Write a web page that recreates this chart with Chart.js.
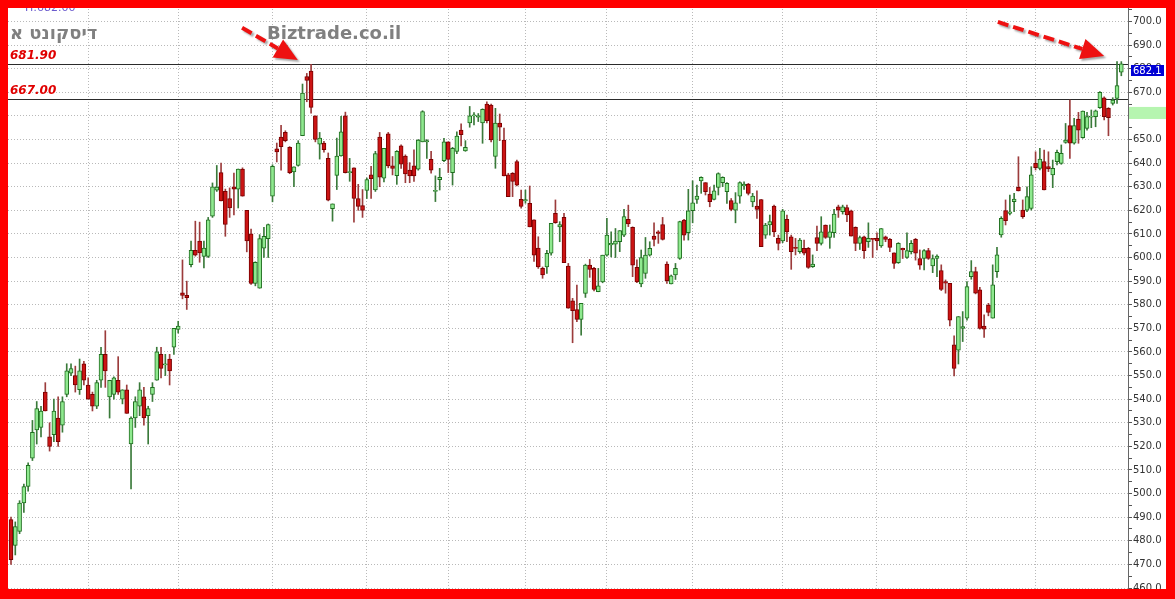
<!DOCTYPE html>
<html>
<head>
<meta charset="utf-8">
<title>דיסקונט א</title>
<script src="https://cdn.jsdelivr.net/npm/chart.js@4.4.1/dist/chart.umd.min.js"></script>
<style>
  html, body { margin: 0; padding: 0; background: #fff; }
  #wrap { width: 1175px; height: 599px; }
</style>
</head>
<body>
<div id="wrap"><canvas id="chart" width="1175" height="599"></canvas></div>
<script>
// daily candles (oldest first)
const openPrices = [
  489, 478, 484, 496, 503, 515, 527, 528, 543, 524, 525, 532, 529, 542, 551, 550, 544, 555, 546, 542,
  537, 548, 559, 541, 542, 548, 540, 544, 521, 532, 537, 541, 533, 542, 548, 559, 554.5, 557, 562, 569.5,
  585, 584, 597, 603, 607, 600.5, 600.5, 617.5, 628.5, 636, 628, 625, 630, 629, 637.5, 620, 610, 589, 587, 604,
  608, 626, 646, 651, 653, 646.7, 636.3, 639, 651.6, 676.7, 679, 660, 648, 648.5, 642, 620.7, 634.8, 643, 660, 636,
  638, 625, 622, 628.4, 635, 628.6, 651, 633.6, 652.4, 638.8, 634.7, 647.3, 643, 637, 638.8, 637.4, 649, 649, 641.6, 628,
  633, 641, 649, 636, 644.9, 654, 645.2, 657, 660, 659.5, 657, 665, 664.6, 642.8, 657, 649.8, 635, 635.7, 640.6, 624.7,
  624, 623, 616, 604, 595.4, 596, 601.8, 618.7, 613, 617, 596.4, 581.7, 578, 573.8, 584.8, 596.8, 595.4, 585.5, 589.7, 601,
  605.3, 605.7, 606.7, 609.5, 616.2, 612.8, 595.8, 588.8, 593.3, 601, 609.1, 610.9, 614, 597.2, 588.8, 592.6, 599.6, 615.9, 610.5, 619.8,
  624.6, 632.5, 631.7, 626.9, 624.6, 629.7, 631.7, 627.9, 624.1, 620.1, 626, 630.3, 631.1, 623.6, 621.8, 624.6, 609.5, 613.8, 621.8, 608.1,
  607, 616.2, 608.8, 604.3, 602.5, 603.9, 603.9, 596.1, 608.5, 606, 613.8, 608.5, 610.5, 621.5, 619.4, 621.2, 619.8, 612.8, 606, 608.8,
  606.7, 608.1, 608.1, 604.9, 608.8, 607.7, 602, 597.8, 603.9, 600, 602.5, 607.7, 599.6, 599.6, 602.9, 596.4, 599.6, 594.5, 589.8, 589.1,
  563, 560.8, 570, 574.3, 591.9, 594, 586.3, 571, 579.9, 574.3, 594, 609.6, 619.9, 618.7, 623.7, 629.7, 620.1, 620.1, 620.8, 639.9,
  637.8, 640.6, 638.5, 635, 640.6, 639.9, 648.8, 655.9, 648.4, 658.7, 650.8, 654.7, 659.5, 659.7, 663.5, 667.7, 663.2, 665.3, 667.4, 678.5
];
const highPrices = [
  490, 488, 497, 504, 513, 531, 539, 537, 547, 530, 540, 541, 541, 555, 555, 554, 557, 556, 549, 543,
  548, 562, 569, 548, 549.5, 558, 544, 546, 532.5, 541, 547, 545, 537, 547, 562, 562, 559, 559, 570, 573,
  599, 590, 607, 615.4, 615, 607, 617, 631.6, 639, 640, 629, 629.5, 635.8, 637.5, 638, 620, 612, 598.2, 609.7, 612.8,
  614.2, 639.3, 648.5, 656, 653.7, 647, 638.4, 649.5, 673.5, 678, 681.9, 660, 653, 649.2, 644.3, 622.7, 650.6, 659.8, 661.6, 642,
  638, 631, 628.8, 633.7, 638.6, 645, 653, 646.3, 653, 642.8, 645.3, 647.7, 643.5, 640.2, 645.6, 650, 662.2, 650, 645, 634.6,
  637.8, 650.5, 649, 646.7, 653.3, 656.6, 649.5, 664, 661.4, 661, 663, 666, 665, 663.2, 660.8, 654.8, 635.7, 636, 641.3, 628.6,
  628.6, 630.3, 616, 608.8, 596, 603, 614.5, 624.4, 615.2, 618.7, 597.5, 582.7, 588.3, 580.6, 597.2, 599.2, 595.8, 595.4, 601, 616.6,
  610.9, 612.3, 611.4, 620.4, 622.2, 613, 599, 603.2, 608.5, 606.7, 614.7, 611.4, 617, 598.2, 592.6, 597.5, 615.4, 616.2, 628.9, 632.5,
  630.7, 634.2, 631.7, 629.7, 630.7, 635.9, 634.2, 631.7, 625, 627.5, 632.1, 632.1, 631.4, 627.2, 628.3, 624.6, 614.5, 618, 622.2, 609.5,
  620.4, 618, 609.5, 608.1, 608.1, 607.4, 604.3, 601.1, 613.3, 617.3, 613.8, 613.8, 620.4, 622.2, 622.2, 622.2, 620.1, 613, 609.1, 609.1,
  614.7, 608.1, 610.5, 612.3, 609.1, 608.1, 602, 606.3, 604, 610.5, 607.2, 608.1, 603.2, 603.4, 603.9, 601.1, 601.1, 596.9, 590.5, 589.1,
  566.8, 575, 577.1, 589.8, 598.7, 595.9, 587.4, 575.7, 580.6, 596.9, 604.3, 617.3, 624.4, 626.5, 627.2, 642.7, 624.4, 630, 638.5, 644.8,
  646.3, 645.5, 644.8, 641.3, 645.5, 647.7, 656.8, 666.7, 659, 661.5, 662.1, 661.5, 662.5, 662.5, 670.3, 668.1, 663.5, 667.7, 683, 683
];
const lowPrices = [
  470, 474, 483, 492, 501, 514, 521, 524, 535, 518, 522, 520, 526, 541, 550, 543, 542, 546, 540, 535,
  536, 545, 545, 532, 540, 542, 538, 534, 502, 528, 533, 529, 521, 539, 548, 549, 550, 546, 559, 568,
  582.5, 578, 596, 600.6, 598, 595.6, 600, 617, 628, 624, 609, 617, 618, 621, 626, 602.4, 588.6, 588, 587, 600,
  600, 623.6, 640.5, 637, 649, 635.5, 630, 638.7, 651.6, 666, 661.2, 649, 641.7, 644.6, 624, 615.4, 628.8, 642.9, 635.8, 632.3,
  615, 620, 617, 625, 625, 628, 630, 632, 638, 635, 631, 637.8, 631.7, 631.7, 632.2, 637, 649, 642, 635.7, 623.7,
  628.6, 640.6, 636, 630.7, 644, 647.3, 645, 655.2, 656.2, 657.6, 648.4, 657, 649, 637.8, 649.5, 634.6, 625.8, 625.8, 630.3, 620.9,
  623, 613, 598.3, 595.4, 591.2, 593.3, 601, 614.5, 606.7, 597.8, 578.5, 563.9, 572.8, 567.1, 583.1, 591.6, 585.9, 585.5, 589.3, 600.6,
  600.3, 600, 602.5, 608.8, 613.1, 591.9, 589.3, 587.6, 591.2, 600.6, 604.9, 606, 607.4, 589, 588.8, 590.7, 599.2, 607.4, 607.4, 614.7,
  622.9, 627.2, 626.5, 621.5, 624.4, 626.5, 630, 622.9, 619.8, 614.7, 623, 628.9, 626.5, 621.5, 616.6, 604.6, 608.1, 609.5, 608.8, 603.2,
  606.3, 606.7, 595, 601.1, 601.8, 601.1, 595.4, 595.8, 602.9, 605.3, 608.1, 603.9, 608.5, 617, 618.4, 615.2, 609.1, 602.9, 603.4, 599.6,
  604.3, 600, 603.2, 604.3, 606.7, 602.5, 595.4, 597.5, 599.6, 599.6, 601.5, 598.9, 595, 594.7, 599.2, 593.6, 591.9, 586, 584.9, 571,
  549.8, 554.9, 564.4, 573.5, 590.8, 584.6, 569.6, 566.2, 575.3, 574.3, 591.6, 608.6, 613.8, 618, 619.4, 628.2, 616.6, 619.4, 620.1, 637.1,
  637.1, 628.6, 636.4, 629.6, 639.2, 639.5, 648.4, 642, 648, 648.4, 650.5, 654, 655, 655.4, 663.2, 658.3, 651.6, 664.6, 665.3, 677
];
const closePrices = [
  472, 486, 496, 503, 512, 526, 536, 535, 535, 520, 535, 522, 539, 552, 553, 546, 552, 548, 540, 537,
  547, 559, 552, 548, 549, 543, 544, 534, 532, 539, 544, 532, 536, 545, 560, 553, 555, 552, 570, 571,
  584, 583, 603, 601, 602, 604, 616, 630, 629.8, 624, 614, 621, 629, 637.5, 626, 607, 589, 598, 608, 609,
  614, 638.6, 644.7, 647, 649.5, 636, 638.4, 648.5, 669.7, 675, 663.6, 650, 650.6, 645.7, 624.3, 622.7, 643, 653.2, 636, 636.2,
  625, 621.7, 620, 633, 633.4, 644, 634, 646.3, 638.8, 637.8, 645, 639.6, 635.4, 634.6, 634.6, 649.8, 661.8, 649.5, 637, 628.3,
  634, 649, 641.6, 646.3, 651.5, 652, 646.7, 660, 660.2, 660, 662.8, 658, 649.8, 657, 655.2, 634.6, 625.8, 632.2, 630.7, 621.6,
  624.5, 613, 601, 596, 592.6, 601.8, 614.5, 614.8, 614, 597.8, 578.5, 577.5, 573.8, 580.6, 596.8, 595, 586.5, 588, 601, 609.5,
  606, 607, 611.4, 617.3, 614.2, 596.8, 589.7, 600, 601, 603.9, 607.7, 610.2, 607.7, 590.2, 592.2, 595.4, 615.2, 609.5, 619.8, 623.2,
  626, 634, 627.9, 623.7, 628.3, 635.6, 634, 631.4, 620.4, 623.2, 631.7, 631.1, 627.2, 626, 620.4, 604.6, 613.8, 615.2, 610.9, 606,
  619.8, 610.9, 602.5, 603.9, 607.4, 601.8, 595.8, 597.2, 606, 610.9, 608.5, 610.9, 618.4, 620.1, 621.5, 618, 609.1, 606, 608.5, 602.9,
  608.1, 607.7, 607, 612.3, 607.7, 604.3, 597.5, 606, 603.2, 602.9, 606, 601.8, 596.8, 602.9, 599.6, 599.6, 600.6, 586.5, 589.1, 573.5,
  553, 575, 570.7, 587.7, 594, 584.9, 570, 569.6, 576.7, 588.4, 601.1, 616.6, 615.6, 619.4, 624.8, 628.2, 617.3, 625.8, 635, 638.1,
  641.7, 628.6, 637.5, 637.8, 644.6, 644.1, 649.8, 648.4, 655.9, 654, 662, 659.7, 659.7, 662.1, 670, 659.7, 659.2, 666.7, 672.8, 682.1
];

// price axis labels and the month separators (candle index)
const yMajorTicks = [460, 470, 480, 490, 500, 510, 520, 530, 540, 550, 560, 570, 580, 590, 600, 610, 620, 630, 640, 650, 660, 670, 680, 690, 700];
const monthStarts = [18, 39, 61, 83, 102, 120, 139, 159, 180, 202, 223, 239];

// support / resistance levels drawn across the chart
const refLevels = [681.9, 667.0];
const refLabels = ['681.90', '667.00'];
const lastPrice = 682.1;
const greenZone = [658.7, 663.8];

// annotation arrows: [index, price] -> [index, price]
const arrows = [
  { from: [53.9, 697.3], to: [66.9, 683.7] },
  { from: [230.2, 699.8], to: [255.0, 685.4] }
];

const upFill = '#8fe98f';
const upLine = '#1f6e1f';
const downFill = '#cc1414';
const downLine = '#7a0000';
const upWick = '#3a7a3a';
const downWick = '#9c3c3c';
const gridColor = '#b9b9b9';

const xMin = -0.7;
const xMax = 260.56;
const yMin = 455.34;
const yMax = 709.1;

const yTickValues = [];
yMajorTicks.forEach(v => {
  yTickValues.push(v);
  yTickValues.push(v + 5);
});

const bodies = [];
const wicks = [];
const bodyFill = [];
const bodyLine = [];
const wickColor = [];
openPrices.forEach((o, i) => {
  const up = closePrices[i] >= o;
  bodies.push({ x: i, y: [o, closePrices[i]] });
  wicks.push({ x: i, y: [lowPrices[i], highPrices[i]] });
  bodyFill.push(up ? upFill : downFill);
  bodyLine.push(up ? upLine : downLine);
  wickColor.push(up ? upWick : downWick);
});

const overlay = {
  id: 'overlay',
  beforeDatasetsDraw(chart) {
    const { ctx, chartArea, scales } = chart;
    ctx.save();
    ctx.strokeStyle = '#2b2b2b';
    ctx.lineWidth = 1;
    refLevels.forEach(level => {
      const y = Math.round(scales.y.getPixelForValue(level)) + 0.5;
      ctx.beginPath();
      ctx.moveTo(chartArea.left, y);
      ctx.lineTo(chartArea.right, y);
      ctx.stroke();
    });
    ctx.restore();
  },
  afterDatasetsDraw(chart) {
    const { ctx, chartArea, scales } = chart;
    ctx.save();

    // level labels
    ctx.font = 'italic bold 12px "DejaVu Sans"';
    ctx.fillStyle = '#e00000';
    ctx.textAlign = 'left';
    ctx.textBaseline = 'alphabetic';
    refLevels.forEach((level, i) => {
      ctx.fillText(refLabels[i], chartArea.left + 2, scales.y.getPixelForValue(level) - 5);
    });

    // titles
    ctx.font = 'bold 18px "DejaVu Sans"';
    ctx.fillStyle = '#808080';
    ctx.fillText('דיסקונט א', 10, 39);
    ctx.fillText('Biztrade.co.il', 267, 39);

    ctx.font = '11px "DejaVu Sans"';
    ctx.fillStyle = '#6a5acd';
    ctx.fillText('H:682.00', 25, 11);

    // arrows
    arrows.forEach(a => {
      const x1 = scales.x.getPixelForValue(a.from[0]);
      const y1 = scales.y.getPixelForValue(a.from[1]);
      const x2 = scales.x.getPixelForValue(a.to[0]);
      const y2 = scales.y.getPixelForValue(a.to[1]);
      const ang = Math.atan2(y2 - y1, x2 - x1);
      const head = 23;
      const half = 10.5;
      const bx = x2 - head * Math.cos(ang);
      const by = y2 - head * Math.sin(ang);
      ctx.save();
      ctx.shadowColor = 'rgba(0,0,0,0.35)';
      ctx.shadowOffsetX = 2;
      ctx.shadowOffsetY = 2;
      ctx.shadowBlur = 2;
      ctx.strokeStyle = '#ee1111';
      ctx.fillStyle = '#ee1111';
      ctx.lineWidth = 4;
      ctx.setLineDash([11, 5]);
      ctx.beginPath();
      ctx.moveTo(x1, y1);
      ctx.lineTo(bx, by);
      ctx.stroke();
      ctx.setLineDash([]);
      ctx.beginPath();
      ctx.moveTo(x2, y2);
      ctx.lineTo(bx + half * Math.sin(ang), by - half * Math.cos(ang));
      ctx.lineTo(bx - half * Math.sin(ang), by + half * Math.cos(ang));
      ctx.closePath();
      ctx.fill();
      ctx.restore();
    });

    // markers on the price axis
    const gz1 = scales.y.getPixelForValue(greenZone[1]);
    const gz0 = scales.y.getPixelForValue(greenZone[0]);
    ctx.fillStyle = '#b6f5b0';
    ctx.fillRect(chartArea.right + 1, gz1, 38, gz0 - gz1);

    const py = Math.round(scales.y.getPixelForValue(lastPrice)) + 1;
    ctx.fillStyle = '#0000d4';
    ctx.fillRect(chartArea.right + 3, py, 33, 11);
    ctx.fillStyle = '#ffffff';
    ctx.font = '10px "DejaVu Sans"';
    ctx.textBaseline = 'middle';
    ctx.fillText(lastPrice.toFixed(1), chartArea.right + 5, py + 6);
    ctx.restore();
  },
  afterDraw(chart) {
    // red frame around the picture
    const { ctx, width, height } = chart;
    ctx.save();
    ctx.fillStyle = '#ff0000';
    ctx.fillRect(0, 0, width, 8);
    ctx.fillRect(0, 0, 8, height);
    ctx.fillRect(width - 9, 0, 9, height);
    ctx.fillRect(0, 589, width, height - 589);
    ctx.restore();
  }
};

new Chart(document.getElementById('chart'), {
  type: 'bar',
  data: {
    datasets: [
      {
        label: 'body',
        data: bodies,
        backgroundColor: bodyFill,
        borderColor: bodyLine,
        borderWidth: 1,
        borderSkipped: false,
        barThickness: 4,
        minBarLength: 1,
        grouped: false,
        order: 0
      },
      {
        label: 'wick',
        data: wicks,
        backgroundColor: wickColor,
        borderWidth: 0,
        barThickness: 1,
        grouped: false,
        order: 1
      }
    ]
  },
  options: {
    responsive: false,
    animation: false,
    devicePixelRatio: 1,
    layout: { padding: { left: 8, right: 0, top: 0, bottom: 0 } },
    plugins: {
      legend: { display: false },
      tooltip: { enabled: false }
    },
    scales: {
      x: {
        type: 'linear',
        min: xMin,
        max: xMax,
        offset: false,
        afterBuildTicks(scale) {
          scale.ticks = monthStarts.map(v => ({ value: v }));
        },
        afterFit(scale) {
          scale.height = 0;
          scale.paddingLeft = 0;
          scale.paddingRight = 0;
        },
        ticks: { display: false },
        grid: { color: gridColor, drawTicks: false, offset: false },
        border: { display: false, dash: [1, 2] }
      },
      y: {
        position: 'right',
        min: yMin,
        max: yMax,
        afterBuildTicks(scale) {
          scale.ticks = yTickValues.map(v => ({ value: v }));
        },
        afterFit(scale) {
          scale.width = 47;
          scale.paddingTop = 0;
          scale.paddingBottom = 0;
        },
        grid: {
          color: ctx => (ctx.tick && ctx.tick.value % 10 === 0) ? gridColor : 'rgba(0,0,0,0)',
          tickColor: '#555',
          tickLength: 4
        },
        border: { display: true, color: '#666', dash: [1, 2] },
        ticks: {
          autoSkip: false,
          color: '#333',
          padding: 1,
          font: { family: 'DejaVu Sans', size: 10 },
          callback: v => (v % 10 === 0 ? Number(v).toFixed(1) : '')
        }
      }
    }
  },
  plugins: [overlay]
});
</script>
</body>
</html>
